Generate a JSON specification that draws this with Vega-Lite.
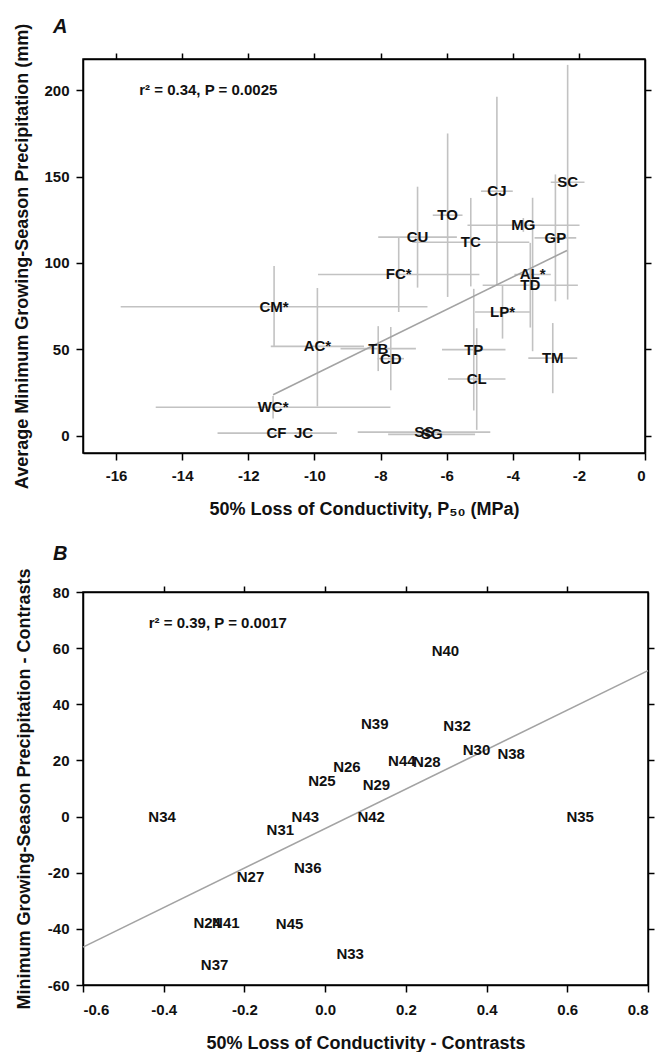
{
  "$schema": "https://vega.github.io/schema/vega-lite/v6.json",
  "background": "white",
  "padding": {"left": 13, "top": 16, "right": 2, "bottom": 0},
  "spacing": 23,
  "config": {
    "font": "Liberation Sans",
    "locale": {"number": {"decimal": ".", "thousands": ",", "grouping": [3], "currency": ["$", ""], "minus": "-"}},
    "view": {"stroke": "#000", "strokeWidth": 1.5},
    "axis": {
      "grid": false,
      "labelFont": "Liberation Sans", "labelFontWeight": "bold", "labelFontSize": 15, "labelColor": "#111",
      "titleFont": "Liberation Sans", "titleFontWeight": "bold", "titleFontSize": 18, "titleColor": "#111",
      "domainColor": "#000", "domainWidth": 1.5, "tickColor": "#000", "tickWidth": 1.5, "tickSize": 7, "labelPadding": 7
    },
    "title": {"font": "Liberation Sans", "fontSize": 20, "fontStyle": "italic", "fontWeight": "bold", "anchor": "start", "frame": "group", "color": "#111"}
  },
  "datasets": {
    "a": [
      {"sp": "CM*", "x": -11.22, "y": 74.6, "xlo": -15.86, "xhi": -6.58, "ylo": 51.8, "yhi": 98.2},
      {"sp": "AC*", "x": -9.91, "y": 51.7, "xlo": -11.32, "xhi": -8.5, "ylo": 17.0, "yhi": 85.5},
      {"sp": "WC*", "x": -11.25, "y": 16.5, "xlo": -14.8, "xhi": -7.7, "ylo": 10.0, "yhi": 23.0},
      {"sp": "CF", "x": -11.15, "y": 1.5, "xlo": -12.93, "xhi": -9.32, "ylo": 1.5, "yhi": 1.5},
      {"sp": "JC", "x": -10.33, "y": 1.5, "xlo": -10.6, "xhi": -10.05, "ylo": 1.5, "yhi": 1.5},
      {"sp": "SS", "x": -6.68, "y": 2.1, "xlo": -8.69, "xhi": -4.68, "ylo": 2.1, "yhi": 2.1},
      {"sp": "SG", "x": -6.45, "y": 0.8, "xlo": -7.77, "xhi": -5.14, "ylo": 0.8, "yhi": 0.8},
      {"sp": "TB", "x": -8.07, "y": 50.4, "xlo": -9.21, "xhi": -6.93, "ylo": 37.4, "yhi": 63.4},
      {"sp": "CD", "x": -7.69, "y": 44.6, "xlo": -8.09, "xhi": -7.29, "ylo": 26.3, "yhi": 62.9},
      {"sp": "FC*", "x": -7.45, "y": 93.3, "xlo": -9.89, "xhi": -5.01, "ylo": 71.6, "yhi": 115.0},
      {"sp": "CU", "x": -6.88, "y": 114.9, "xlo": -8.07, "xhi": -5.69, "ylo": 85.7, "yhi": 144.1},
      {"sp": "TO", "x": -5.97, "y": 127.6, "xlo": -6.42, "xhi": -5.52, "ylo": 80.3, "yhi": 174.9},
      {"sp": "TC", "x": -5.27, "y": 112.0, "xlo": -7.04, "xhi": -3.5, "ylo": 86.4, "yhi": 137.6},
      {"sp": "CJ", "x": -4.48, "y": 141.5, "xlo": -4.96, "xhi": -4.0, "ylo": 86.9, "yhi": 196.1},
      {"sp": "TP", "x": -5.18, "y": 49.8, "xlo": -6.14, "xhi": -4.22, "ylo": 14.6, "yhi": 85.0},
      {"sp": "CL", "x": -5.09, "y": 32.8, "xlo": -5.96, "xhi": -4.22, "ylo": 3.4, "yhi": 62.2},
      {"sp": "LP*", "x": -4.31, "y": 71.6, "xlo": -5.14, "xhi": -3.48, "ylo": 56.2, "yhi": 87.0},
      {"sp": "MG", "x": -3.68, "y": 121.8, "xlo": -5.37, "xhi": -1.98, "ylo": 118.0, "yhi": 126.0},
      {"sp": "AL*", "x": -3.4, "y": 93.3, "xlo": -3.95, "xhi": -2.85, "ylo": 48.9, "yhi": 137.7},
      {"sp": "TD", "x": -3.47, "y": 87.1, "xlo": -4.91, "xhi": -2.03, "ylo": 62.6, "yhi": 111.6},
      {"sp": "GP", "x": -2.71, "y": 114.5, "xlo": -3.34, "xhi": -2.08, "ylo": 77.8, "yhi": 151.2},
      {"sp": "TM", "x": -2.79, "y": 44.9, "xlo": -3.53, "xhi": -2.05, "ylo": 24.6, "yhi": 65.2},
      {"sp": "SC", "x": -2.34, "y": 146.7, "xlo": -2.85, "xhi": -1.83, "ylo": 78.8, "yhi": 214.6}
    ],
    "afit": [
      {"x": -11.25, "y": 23.7},
      {"x": -2.36, "y": 107.2}
    ],
    "b": [
      {"n": "N24", "x": -0.292, "y": -38.0},
      {"n": "N25", "x": -0.008, "y": 12.8},
      {"n": "N26", "x": 0.054, "y": 17.6},
      {"n": "N27", "x": -0.185, "y": -21.4},
      {"n": "N28", "x": 0.252, "y": 19.3},
      {"n": "N29", "x": 0.127, "y": 11.4},
      {"n": "N30", "x": 0.375, "y": 23.8},
      {"n": "N31", "x": -0.111, "y": -4.7},
      {"n": "N32", "x": 0.327, "y": 32.1},
      {"n": "N33", "x": 0.062, "y": -49.0},
      {"n": "N34", "x": -0.404, "y": 0.0},
      {"n": "N35", "x": 0.632, "y": 0.0},
      {"n": "N36", "x": -0.043, "y": -18.4},
      {"n": "N37", "x": -0.274, "y": -52.8},
      {"n": "N38", "x": 0.461, "y": 22.4},
      {"n": "N39", "x": 0.123, "y": 33.1},
      {"n": "N40", "x": 0.298, "y": 59.1},
      {"n": "N41", "x": -0.246, "y": -38.0},
      {"n": "N42", "x": 0.114, "y": 0.0},
      {"n": "N43", "x": -0.049, "y": 0.0},
      {"n": "N44", "x": 0.19, "y": 19.7},
      {"n": "N45", "x": -0.088, "y": -38.3}
    ],
    "bfit": [
      {"x": -0.6, "y": -46.5},
      {"x": 0.8, "y": 52.0}
    ]
  },
  "vconcat": [
    {
      "title": {"text": "A", "dx": -30, "offset": -14},
      "width": 562,
      "height": 394,
      "resolve": {"axis": {"x": "independent", "y": "independent"}},
      "layer": [
        {
          "data": {"name": "a"},
          "mark": {"type": "rule", "color": "#c2c2c2", "strokeWidth": 1.6},
          "encoding": {
            "x": {"field": "xlo", "type": "quantitative", "scale": {"domain": [-17, 0], "nice": false, "zero": false},
              "axis": {"orient": "bottom", "values": [-16, -14, -12, -10, -8, -6, -4, -2, 0], "labelPadding": 8.5,
                "title": "50% Loss of Conductivity, P₅₀ (MPa)", "titlePadding": 17}},
            "x2": {"field": "xhi"},
            "y": {"field": "y", "type": "quantitative", "scale": {"domain": [-10, 218], "nice": false, "zero": false},
              "axis": {"orient": "left", "values": [0, 50, 100, 150, 200],
                "title": "Average Minimum Growing-Season Precipitation (mm)", "titlePadding": 12}}
          }
        },
        {
          "data": {"name": "a"},
          "mark": {"type": "rule", "color": "#c2c2c2", "strokeWidth": 1.6},
          "encoding": {
            "x": {"field": "x", "type": "quantitative",
              "axis": {"orient": "top", "values": [-16, -14, -12, -10, -8, -6, -4, -2], "tickSize": 6, "labelOpacity": 0, "labelFontSize": 1, "labelPadding": 0, "title": null}},
            "y": {"field": "ylo", "type": "quantitative",
              "axis": {"orient": "right", "values": [0, 50, 100, 150, 200], "tickSize": 6, "labelOpacity": 0, "labelFontSize": 1, "labelPadding": 0, "title": null}},
            "y2": {"field": "yhi"}
          }
        },
        {
          "data": {"name": "afit"},
          "mark": {"type": "line", "color": "#a3a3a3", "strokeWidth": 1.6},
          "encoding": {
            "x": {"field": "x", "type": "quantitative", "axis": null},
            "y": {"field": "y", "type": "quantitative", "axis": null}
          }
        },
        {
          "data": {"values": [{"x": -15.3, "y": 200, "t": "r² = 0.34, P = 0.0025"}]},
          "mark": {"type": "text", "font": "Liberation Sans", "fontWeight": "bold", "fontSize": 15, "color": "#111", "align": "left", "baseline": "middle"},
          "encoding": {
            "x": {"field": "x", "type": "quantitative", "axis": null},
            "y": {"field": "y", "type": "quantitative", "axis": null},
            "text": {"field": "t"}
          }
        },
        {
          "data": {"name": "a"},
          "mark": {"type": "text", "font": "Liberation Sans", "fontWeight": "bold", "fontSize": 15, "color": "#111", "align": "center", "baseline": "middle"},
          "encoding": {
            "x": {"field": "x", "type": "quantitative", "axis": null},
            "y": {"field": "y", "type": "quantitative", "axis": null},
            "text": {"field": "sp"}
          }
        }
      ]
    },
    {
      "title": {"text": "B", "dx": -30, "offset": 4},
      "width": 565,
      "height": 393,
      "resolve": {"axis": {"x": "independent", "y": "independent"}},
      "layer": [
        {
          "data": {"name": "bfit"},
          "mark": {"type": "line", "color": "#a3a3a3", "strokeWidth": 1.6},
          "encoding": {
            "x": {"field": "x", "type": "quantitative", "scale": {"domain": [-0.6, 0.8], "nice": false, "zero": false},
              "axis": {"orient": "bottom", "values": [-0.6, -0.4, -0.2, 0, 0.2, 0.4, 0.6, 0.8], "format": ".1f", "labelPadding": 10,
                "title": "50% Loss of Conductivity - Contrasts", "titlePadding": 17.5}},
            "y": {"field": "y", "type": "quantitative", "scale": {"domain": [-60, 80], "nice": false, "zero": false},
              "axis": {"orient": "left", "values": [-60, -40, -20, 0, 20, 40, 60, 80],
                "title": "Minimum Growing-Season Precipitation - Contrasts", "titlePadding": 14}}
          }
        },
        {
          "data": {"values": [{"x": -0.437, "y": 69, "t": "r² = 0.39, P = 0.0017"}]},
          "mark": {"type": "text", "font": "Liberation Sans", "fontWeight": "bold", "fontSize": 15, "color": "#111", "align": "left", "baseline": "middle"},
          "encoding": {
            "x": {"field": "x", "type": "quantitative", "axis": null},
            "y": {"field": "y", "type": "quantitative", "axis": null},
            "text": {"field": "t"}
          }
        },
        {
          "data": {"name": "b"},
          "mark": {"type": "text", "font": "Liberation Sans", "fontWeight": "bold", "fontSize": 15, "color": "#111", "align": "center", "baseline": "middle"},
          "encoding": {
            "x": {"field": "x", "type": "quantitative",
              "axis": {"orient": "top", "values": [-0.4, -0.2, 0, 0.2, 0.4, 0.6], "tickSize": 6, "labelOpacity": 0, "labelFontSize": 1, "labelPadding": 0, "title": null}},
            "y": {"field": "y", "type": "quantitative",
              "axis": {"orient": "right", "values": [-40, -20, 0, 20, 40, 60], "tickSize": 6, "labelOpacity": 0, "labelFontSize": 1, "labelPadding": 0, "title": null}},
            "text": {"field": "n"}
          }
        }
      ]
    }
  ]
}
